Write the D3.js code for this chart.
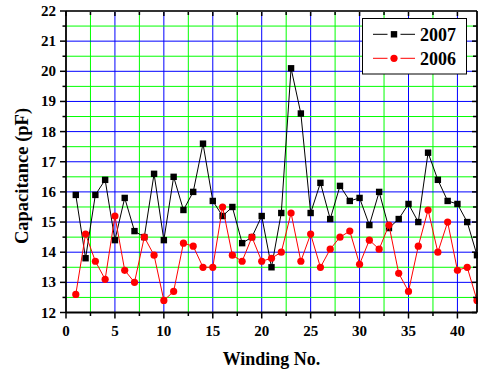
<!DOCTYPE html>
<html>
<head>
<meta charset="utf-8">
<script src="https://cdn.jsdelivr.net/npm/d3@7"></script>
<style>
html,body{margin:0;padding:0;background:#fff;}
svg{display:block;}
text{font-family:"Liberation Serif","Times New Roman",serif;font-weight:bold;fill:#000;}
</style>
</head>
<body>
<svg id="chart" width="478" height="374"></svg>
<script>
const winding = d3.range(1, 43);
const cap2007 = [15.9,13.8,15.9,16.4,14.4,15.8,14.7,14.5,16.6,14.4,16.5,15.4,16.0,17.6,15.7,15.2,15.5,14.3,14.5,15.2,13.5,15.3,20.1,18.6,15.3,16.3,15.1,16.2,15.7,15.8,14.9,16.0,14.8,15.1,15.6,15.0,17.3,16.4,15.7,15.6,15.0,13.9];
const cap2006 = [12.6,14.6,13.7,13.1,15.2,13.4,13.0,14.5,13.9,12.4,12.7,14.3,14.2,13.5,13.5,15.5,13.9,13.7,14.5,13.7,13.8,14.0,15.3,13.7,14.6,13.5,14.1,14.5,14.7,13.6,14.4,14.1,14.9,13.3,12.7,14.2,15.4,14.0,15.0,13.4,13.5,12.4];
const xTicks = [0,5,10,15,20,25,30,35,40];
const yTicks = [12,13,14,15,16,17,18,19,20,21,22];
const seriesNames = ["2007","2006"];
const seriesColors = ["#000000","#ff0000"];

const svg = d3.select("#chart");
const L = 66, R = 477, T = 11, B = 312.5;
const x = d3.scaleLinear().domain([0, 42]).range([L, R]);
const y = d3.scaleLinear().domain([12, 22]).range([B, T]);

// grid
const g = svg.append("g");
const vGrid = d3.range(2.5, 42, 2.5);
g.selectAll(".vg").data(vGrid).enter().append("line")
  .attr("x1", d => x(d)).attr("x2", d => x(d)).attr("y1", T).attr("y2", B)
  .attr("stroke", d => (d % 5 === 0) ? "#0000ff" : "#00ff00").attr("stroke-width", 1);
const hGrid = d3.range(12.5, 22, 0.5);
g.selectAll(".hg").data(hGrid).enter().append("line")
  .attr("x1", L).attr("x2", R).attr("y1", d => y(d)).attr("y2", d => y(d))
  .attr("stroke", d => (d % 1 === 0) ? "#0000ff" : "#00ff00").attr("stroke-width", 1);

// series
const series = [cap2007, cap2006];
const line = d3.line().x((d, i) => x(winding[i])).y(d => y(d));
series.forEach((vals, si) => {
  const col = seriesColors[si];
  svg.append("path").datum(vals).attr("d", line)
    .attr("fill", "none").attr("stroke", col).attr("stroke-width", 1);
  if (si === 0) {
    svg.append("g").selectAll("rect").data(vals).enter().append("rect")
      .attr("x", (d, i) => x(winding[i]) - 3.2).attr("y", d => y(d) - 3.2)
      .attr("width", 6.4).attr("height", 6.4).attr("fill", col);
  } else {
    svg.append("g").selectAll("circle").data(vals).enter().append("circle")
      .attr("cx", (d, i) => x(winding[i])).attr("cy", d => y(d)).attr("r", 3.6).attr("fill", col);
  }
});

const minorX = d3.range(0, 42.01, 2.5);
const minorY = d3.range(12, 22.01, 0.5);
const ax = svg.append("g").attr("stroke", "#000");
ax.selectAll(".bt").data(minorX).enter().append("line")
  .attr("x1", d => x(d)).attr("x2", d => x(d)).attr("y1", B)
  .attr("y2", d => B + (d % 5 === 0 ? 6 : 3.5)).attr("stroke-width", 1.5);
ax.selectAll(".tt").data(minorX).enter().append("line")
  .attr("x1", d => x(d)).attr("x2", d => x(d)).attr("y1", T)
  .attr("y2", d => T + (d % 5 === 0 ? 5 : 4)).attr("stroke-width", 1.5);
ax.selectAll(".lt").data(minorY).enter().append("line")
  .attr("y1", d => y(d)).attr("y2", d => y(d)).attr("x1", L)
  .attr("x2", d => L - (d % 1 === 0 ? 6 : 3.5)).attr("stroke-width", 1.5);
ax.selectAll(".rt").data(minorY).enter().append("line")
  .attr("y1", d => y(d)).attr("y2", d => y(d)).attr("x1", R)
  .attr("x2", d => R - (d % 1 === 0 ? 5 : 4)).attr("stroke-width", 1.5);
ax.append("line").attr("x1", L).attr("x2", R).attr("y1", B).attr("y2", B).attr("stroke-width", 1.8);
ax.append("line").attr("x1", L).attr("x2", R).attr("y1", T).attr("y2", T).attr("stroke-width", 1.8).attr("stroke", "#333");
ax.append("line").attr("x1", L).attr("x2", L).attr("y1", T).attr("y2", B).attr("stroke-width", 1.8);
ax.append("line").attr("x1", R).attr("x2", R).attr("y1", T).attr("y2", B).attr("stroke-width", 1.8);

svg.append("g").selectAll("text").data(xTicks).enter().append("text")
  .attr("x", d => x(d)).attr("y", 336).attr("text-anchor", "middle")
  .attr("font-size", 15).text(d => d);
svg.append("g").selectAll("text").data(yTicks).enter().append("text")
  .attr("x", 56).attr("y", d => y(d) + 5).attr("text-anchor", "end")
  .attr("font-size", 15).text(d => d);

svg.append("text").attr("x", (L + R) / 2).attr("y", 365).attr("text-anchor", "middle")
  .attr("font-size", 18).text("Winding No.");
svg.append("text").attr("transform", "translate(28,176) rotate(-90)")
  .attr("text-anchor", "middle").attr("font-size", 18.5).text("Capacitance (pF)");

// legend
const lg = svg.append("g");
lg.append("rect").attr("x", 362.5).attr("y", 18.5).attr("width", 104).attr("height", 55.5)
  .attr("fill", "#fff").attr("stroke", "#000").attr("stroke-width", 1);
const ly = [34.3, 58.3];
seriesNames.forEach((name, i) => {
  const col = seriesColors[i];
  lg.append("line").attr("x1", 373).attr("x2", 387.5).attr("y1", ly[i]).attr("y2", ly[i])
    .attr("stroke", col).attr("stroke-width", 1);
  lg.append("line").attr("x1", 400.5).attr("x2", 415).attr("y1", ly[i]).attr("y2", ly[i])
    .attr("stroke", col).attr("stroke-width", 1);
  if (i === 0) {
    lg.append("rect").attr("x", 394 - 3.2).attr("y", ly[i] - 3.2).attr("width", 6.4).attr("height", 6.4).attr("fill", col);
  } else {
    lg.append("circle").attr("cx", 394).attr("cy", ly[i]).attr("r", 3.6).attr("fill", col);
  }
  lg.append("text").attr("x", 420).attr("y", ly[i] + 6.5).attr("font-size", 18).text(name);
});
</script>
</body>
</html>
